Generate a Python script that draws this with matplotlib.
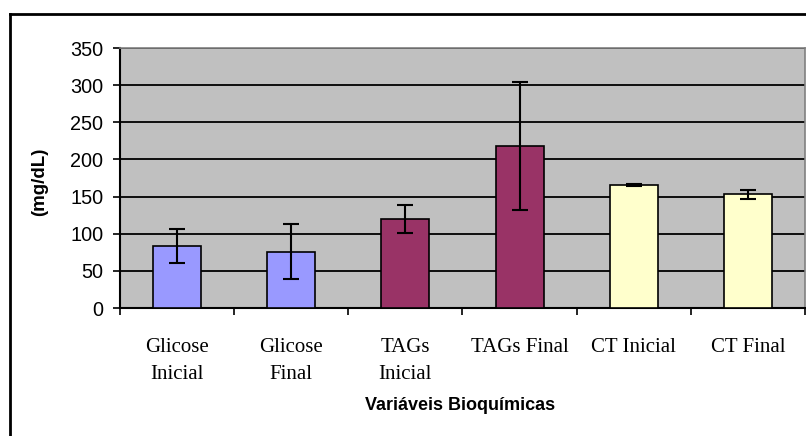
import matplotlib
matplotlib.use("Agg")
import matplotlib.pyplot as plt
from matplotlib.lines import Line2D
import numpy as np

categories = ["Glicose\nInicial", "Glicose\nFinal", "TAGs\nInicial", "TAGs Final", "CT Inicial", "CT Final"]
values = [83, 76, 120, 218, 166, 153]
errors = [23, 37, 19, 86, 1.5, 6]
colors = ["#9999FF", "#9999FF", "#993366", "#993366", "#FFFFCC", "#FFFFCC"]
yticks = [0, 50, 100, 150, 200, 250, 300, 350]

W, H = 806, 436
fig = plt.figure(figsize=(W / 100, H / 100), dpi=100)

# outer chart frame
fig.add_artist(Line2D([10 / W, 10 / W], [0, 1 - 14 / H], color="black", lw=2, transform=fig.transFigure))
fig.add_artist(Line2D([10 / W, 1.0], [1 - 14 / H, 1 - 14 / H], color="black", lw=2, transform=fig.transFigure))

left, right, top, bottom = 120, 805, 48, 308
aw, ah = right - left, bottom - top
ax = fig.add_axes([left / W, 1 - bottom / H, aw / W, ah / H])
ax.set_facecolor("#C0C0C0")

x = np.arange(len(categories))
ax.bar(x, values, width=0.42, color=colors, edgecolor="black", linewidth=1.2, zorder=3)
ax.errorbar(x, values, yerr=errors, fmt="none", ecolor="black", elinewidth=1.5,
            capsize=5.5, capthick=1.5, zorder=4)

ax.set_ylim(0, 350)
ax.set_xlim(-0.5, len(categories) - 0.5)
ax.set_yticks(yticks)
ax.yaxis.grid(True, color="black", linewidth=1.3, zorder=1)
ax.set_axisbelow(True)

ax.set_xticks(np.arange(len(categories) + 1) - 0.5, minor=False)
ax.set_xticklabels([])
ax.set_xticks(x, minor=True)
ax.set_xticklabels(categories, minor=True, fontfamily="Liberation Serif", fontsize=15,
                   linespacing=1.6, va="top")
ax.tick_params(axis="x", which="minor", length=0, pad=21.5)
ax.tick_params(axis="x", which="major", direction="out", length=5, width=1.2, color="black")
ax.tick_params(axis="y", direction="out", length=5, width=1.2, labelsize=14.3, pad=7)
for lbl in ax.get_yticklabels():
    lbl.set_fontfamily("Liberation Sans")

for s in ["top", "right"]:
    ax.spines[s].set_color("#808080")
    ax.spines[s].set_linewidth(1.2)
for s in ["left", "bottom"]:
    ax.spines[s].set_color("black")
    ax.spines[s].set_linewidth(1.5)

ax.set_ylabel("(mg/dL)", fontfamily="Liberation Sans", fontweight="bold", fontsize=13.5, va="center")
ax.yaxis.set_label_coords((40 - left) / aw, (bottom - 182) / ah)
ax.set_xlabel("Variáveis Bioquímicas", fontfamily="Liberation Sans", fontweight="bold", fontsize=13, va="center")
ax.xaxis.set_label_coords((460 - left) / aw, (bottom - 405) / ah)

fig.savefig("out.png", dpi=100)
